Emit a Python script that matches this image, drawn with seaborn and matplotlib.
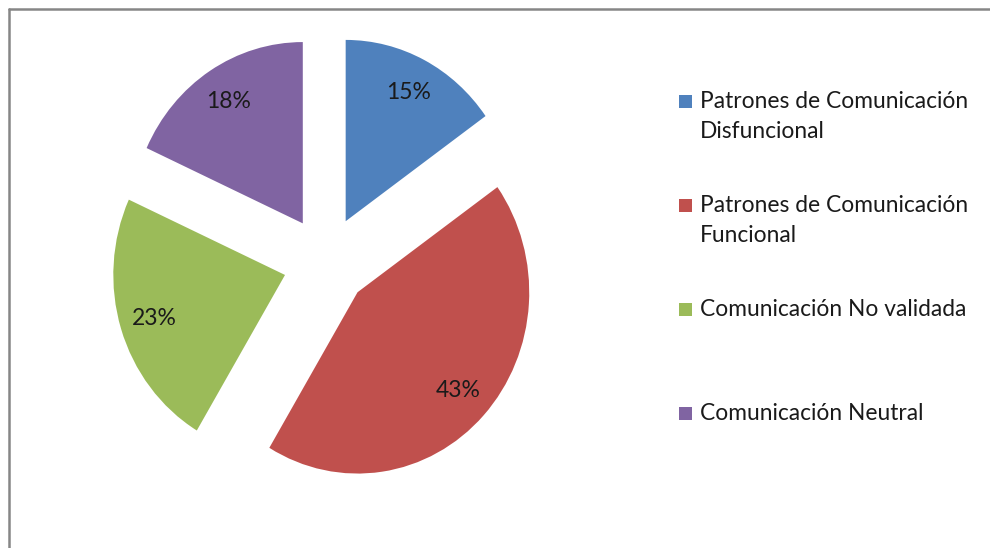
import matplotlib
matplotlib.use("Agg")
import matplotlib.pyplot as plt
from matplotlib.lines import Line2D
from matplotlib.patches import Rectangle
import seaborn as sns

categories = ["Patrones de Comunicación\nDisfuncional",
              "Patrones de Comunicación\nFuncional",
              "Comunicación No validada",
              "Comunicación Neutral"]
values = [15, 43, 23, 18]
colors = ["#4F81BD", "#C0504D", "#9BBB59", "#8064A2"]

sns.set_theme(style="white")
plt.rcParams['font.family'] = ['Lato', 'DejaVu Sans']

W, H = 990, 548
fig = plt.figure(figsize=(W / 100, H / 100), dpi=100)
fig.patch.set_facecolor("white")

# pie axes: center (326, 261.5) px from top-left, radius ~172 px wide x 181 px tall
cx, cy = 326, 261.5
Rx, Ry = 171.7, 181.3
L = 1.4
hw, hh = Rx * L, Ry * L
ax = fig.add_axes([(cx - hw) / W, (H - cy - hh) / H, 2 * hw / W, 2 * hh / H])
palette = sns.color_palette(colors)
wedges, texts, autotexts = ax.pie(
    values, colors=palette, startangle=90, counterclock=False,
    explode=[0.25] * len(values), radius=1.0,
    autopct=lambda p: f"{round(p)}%", pctdistance=0.8,
    wedgeprops=dict(linewidth=0),
    textprops=dict(fontsize=16.5, color="#1a1a1a"))
ax.set_xlim(-L, L)
ax.set_ylim(-L, L)
ax.set_aspect("auto")
ax.axis("off")

# legend (manual layout to mimic spreadsheet legend)
leg_x_marker = 685.5
leg_x_text = 700
leg_y = [101, 205, 309, 413]
sq = 13
for lab, col, y in zip(categories, colors, leg_y):
    fig.add_artist(Rectangle(((leg_x_marker - sq / 2) / W, (H - y - sq / 2) / H),
                             sq / W, sq / H, transform=fig.transFigure,
                             facecolor=col, edgecolor="none"))
    fig.text(leg_x_text / W, (H - y + 10) / H, lab, fontsize=16.4,
             color="#1a1a1a", ha="left", va="top", linespacing=1.5)

# chart-area border (top and left visible)
fig.add_artist(Line2D([8.5 / W, 8.5 / W], [0, (H - 8.5) / H], transform=fig.transFigure,
                      color="#868686", linewidth=1.8))
fig.add_artist(Line2D([8.5 / W, 1], [(H - 8.5) / H, (H - 8.5) / H], transform=fig.transFigure,
                      color="#868686", linewidth=1.8))

fig.savefig("out.png", dpi=100, facecolor="white")
